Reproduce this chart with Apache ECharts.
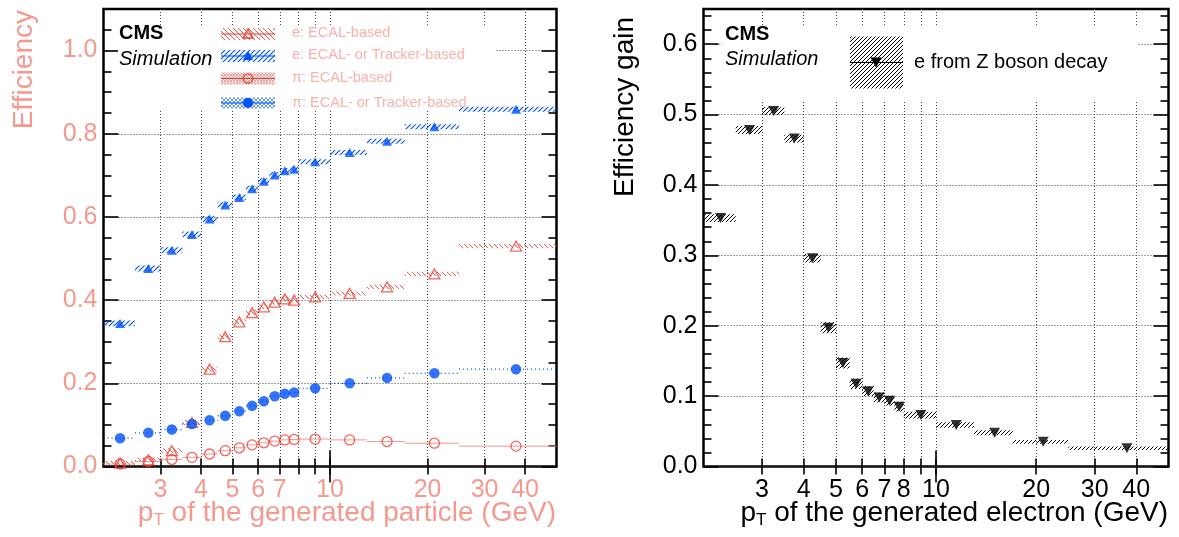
<!DOCTYPE html>
<html><head><meta charset="utf-8">
<script src="https://cdn.jsdelivr.net/npm/echarts@6/dist/echarts.min.js"></script>
<style>html,body{margin:0;padding:0;background:#fff}#c{width:1179px;height:537px}</style>
</head><body><div id="c"></div>
<script>
// ---- data ----
const binEdges   = [2,2.5,3,3.5,4,4.5,5,5.5,6,6.5,7,7.5,8,10,13,17,25,50];
const binCenters = [2.25,2.75,3.25,3.75,4.25,4.75,5.25,5.75,6.25,6.75,7.25,7.75,9,11.5,15,21,37.5];
const effElecEcal       = [0.008,0.016,0.038,0.106,0.234,0.312,0.348,0.370,0.384,0.395,0.403,0.400,0.408,0.416,0.432,0.463,0.530];
const effElecEcalErr    = [0.005,0.005,0.006,0.006,0.006,0.006,0.006,0.006,0.006,0.006,0.006,0.006,0.005,0.005,0.005,0.005,0.005];
const effElecEcalTrk    = [0.344,0.476,0.520,0.558,0.595,0.629,0.647,0.668,0.686,0.701,0.711,0.715,0.733,0.755,0.782,0.817,0.859];
const effElecEcalTrkErr = [0.007,0.007,0.007,0.007,0.007,0.007,0.007,0.007,0.007,0.007,0.007,0.007,0.006,0.006,0.006,0.006,0.006];
const effPionEcal       = [0.006,0.012,0.017,0.022,0.030,0.038,0.045,0.052,0.057,0.061,0.064,0.065,0.066,0.064,0.060,0.056,0.049];
const effPionEcalErr    = [0.001,0.001,0.001,0.001,0.001,0.001,0.001,0.001,0.001,0.001,0.001,0.001,0.001,0.001,0.001,0.001,0.001];
const effPionEcalTrk    = [0.068,0.081,0.089,0.102,0.111,0.122,0.133,0.146,0.157,0.169,0.175,0.178,0.188,0.200,0.213,0.224,0.234];
const effPionEcalTrkErr = [0.002,0.002,0.002,0.002,0.002,0.002,0.002,0.002,0.002,0.002,0.002,0.002,0.002,0.002,0.002,0.002,0.002];
const gainZee    = [0.353,0.478,0.505,0.466,0.296,0.197,0.147,0.1175,0.107,0.098,0.0935,0.085,0.073,0.059,0.048,0.035,0.026];
const gainZeeErr = [0.0055,0.0057,0.0055,0.0055,0.006,0.0078,0.0078,0.0075,0.007,0.007,0.007,0.007,0.0047,0.004,0.0035,0.0025,0.0024];
const xTicks       = [3,4,5,6,7,8,9,10,20,30,40];
const xLongTicks   = [10];
const xLabelsLeft  = [3,4,5,6,7,10,20,30,40];
const xLabelsRight = [3,4,5,6,7,8,10,20,30,40];
const yLabelsLeft  = [0,0.2,0.4,0.6,0.8,1.0];
const yMinorLeft   = [0.05,0.1,0.15,0.25,0.3,0.35,0.45,0.5,0.55,0.65,0.7,0.75,0.85,0.9,0.95,1.05];
const yLabelsRight = [0,0.1,0.2,0.3,0.4,0.5,0.6];
const yMinorRight  = [0.02,0.04,0.06,0.08,0.12,0.14,0.16,0.18,0.22,0.24,0.26,0.28,0.32,0.34,0.36,0.38,0.42,0.44,0.46,0.48,0.52,0.54,0.56,0.58,0.62,0.64];

// ---- style ----
const FONT = '"Liberation Sans", Arial, Helvetica, sans-serif';
const RED = '#f03c32', BLUE = '#0050f5', PINK = '#f5998f', PINKL = '#f8b2ab';

function hatch(color, dir, s, lw) {
  const c = document.createElement('canvas'); c.width = s; c.height = s;
  const g = c.getContext('2d'); g.strokeStyle = color; g.lineWidth = lw;
  g.beginPath();
  if (dir === '/') { g.moveTo(0,s); g.lineTo(s,0); g.moveTo(-1,1); g.lineTo(1,-1); g.moveTo(s-1,s+1); g.lineTo(s+1,s-1); }
  else if (dir === '\\') { g.moveTo(0,0); g.lineTo(s,s); g.moveTo(s-1,-1); g.lineTo(s+1,1); g.moveTo(-1,s-1); g.lineTo(1,s+1); }
  else { g.moveTo(0,0); g.lineTo(s,s); g.moveTo(0,s); g.lineTo(s,0); }
  g.stroke();
  return { image: c, repeat: 'repeat' };
}
const hRed = hatch('#f2584e', '\\', 5, 1);
const hBlue = hatch(BLUE, '/', 5, 1.1);
const hRedFine = hatch('#f5867e', 'x', 3, 0.8);
const hBlueFine = hatch('#3f7cf7', 'x', 4, 0.8);
const hBlack = hatch('#000', '/', 4, 1);

function band(xi, yi, vals, errs, fill, line, z) {
  return {
    type: 'custom', xAxisIndex: xi, yAxisIndex: yi, clip: true, silent: true, z: z || 2,
    data: vals.map((v, i) => [binEdges[i], binEdges[i + 1], v, errs[i]]),
    renderItem(params, api) {
      const a = api.coord([api.value(0), api.value(2) + api.value(3)]);
      const b = api.coord([api.value(1), api.value(2) - api.value(3)]);
      const m = api.coord([api.value(0), api.value(2)]);
      const ch = [];
      if (fill) ch.push({ type: 'rect', shape: { x: a[0], y: a[1], width: b[0] - a[0], height: Math.max(1, b[1] - a[1]) }, style: { fill: fill } });
      if (line) ch.push({ type: 'line', shape: { x1: a[0], y1: m[1], x2: b[0], y2: m[1] }, style: { stroke: line.color, lineWidth: line.width, lineDash: line.dash || null } });
      return { type: 'group', children: ch };
    }
  };
}
function pts(xi, yi, vals, symbol, size, item, rot) {
  return {
    type: 'scatter', xAxisIndex: xi, yAxisIndex: yi, silent: true, z: 5,
    data: binCenters.map((x, i) => [x, vals[i]]),
    symbol: symbol, symbolSize: size, symbolRotate: rot || 0, itemStyle: item
  };
}

function xAxes(grid, labels, labColor) {
  const base = { type: 'log', logBase: 10, min: 2, max: 50, gridIndex: grid, axisLine: { show: false } };
  const tickStyle = { color: '#000', width: 1.6 };
  return [
    Object.assign({}, base, { position: 'bottom',
      axisTick: { customValues: xTicks, inside: true, length: 8, lineStyle: tickStyle },
      axisLabel: { customValues: labels, color: labColor, fontSize: 25, fontFamily: FONT, margin: 11, formatter: v => String(v) },
      splitLine: { show: true, lineStyle: { type: [1, 2], color: '#444', width: 1 } } }),
    Object.assign({}, base, { position: 'bottom',
      axisTick: { customValues: xLongTicks, inside: true, length: 16, lineStyle: tickStyle },
      axisLabel: { show: false }, splitLine: { show: false } }),
    Object.assign({}, base, { position: 'top',
      axisTick: { customValues: xTicks, inside: true, length: 8, lineStyle: tickStyle },
      axisLabel: { show: false }, splitLine: { show: false } }),
    Object.assign({}, base, { position: 'top',
      axisTick: { customValues: xLongTicks, inside: true, length: 16, lineStyle: tickStyle },
      axisLabel: { show: false }, splitLine: { show: false } })
  ];
}
function yAxes(grid, max, labels, minor, labColor, fmt) {
  const base = { type: 'value', min: 0, max: max, gridIndex: grid, axisLine: { show: false } };
  const tickStyle = { color: '#000', width: 1.6 };
  return [
    Object.assign({}, base, { position: 'left',
      axisTick: { customValues: labels, inside: true, length: 15, lineStyle: tickStyle },
      axisLabel: { customValues: labels, color: labColor, fontSize: 25, fontFamily: FONT, margin: 6, formatter: fmt },
      splitLine: { show: true, lineStyle: { type: [1, 2], color: '#444', width: 1 } } }),
    Object.assign({}, base, { position: 'left',
      axisTick: { customValues: minor, inside: true, length: 8, lineStyle: tickStyle },
      axisLabel: { show: false }, splitLine: { show: false } }),
    Object.assign({}, base, { position: 'right',
      axisTick: { customValues: labels, inside: true, length: 15, lineStyle: tickStyle },
      axisLabel: { show: false }, splitLine: { show: false } }),
    Object.assign({}, base, { position: 'right',
      axisTick: { customValues: minor, inside: true, length: 8, lineStyle: tickStyle },
      axisLabel: { show: false }, splitLine: { show: false } })
  ];
}

function txt(x, y, text, font, fill, align, extra) {
  return Object.assign({ type: 'text', x: x, y: y, z: 10, silent: true,
    style: { text: text, font: font, fill: fill, align: align || 'left', verticalAlign: 'middle' } }, extra || {});
}
function legendSym(x, y, w, h, fill, lineColor, symbolEl) {
  const els = [{ type: 'rect', z: 6, silent: true, shape: { x: x, y: y - h / 2, width: w, height: h }, style: { fill: fill } }];
  if (lineColor) els.push({ type: 'line', z: 7, silent: true, shape: { x1: x, y1: y, x2: x + w, y2: y }, style: { stroke: lineColor, lineWidth: 1.2 } });
  els.push(symbolEl);
  return els;
}
function tri(cx, cy, w, h, down, style) {
  const p = down ? [[cx - w / 2, cy - h / 2], [cx + w / 2, cy - h / 2], [cx, cy + h / 2]]
                 : [[cx, cy - h / 2], [cx + w / 2, cy + h / 2], [cx - w / 2, cy + h / 2]];
  return { type: 'polygon', z: 8, silent: true, shape: { points: p }, style: style };
}

const chart = echarts.init(document.getElementById('c'), null, { renderer: 'canvas' });
const f1 = v => v.toFixed(1);

const graphics = [
  { type: 'rect', z: 1, silent: true, shape: { x: 118, y: 25, width: 378, height: 85 }, style: { fill: '#fff' } },
  { type: 'rect', z: 1, silent: true, shape: { x: 722, y: 25, width: 415, height: 75 }, style: { fill: '#fff' } },
  txt(119, 33, 'CMS', 'bold 20px ' + FONT, '#000'),
  txt(119, 59, 'Simulation', 'italic 20px ' + FONT, '#000'),
  txt(725, 34, 'CMS', 'bold 20px ' + FONT, '#000'),
  txt(725, 59, 'Simulation', 'italic 20px ' + FONT, '#000'),
  ...legendSym(221, 34, 54, 12, hRed, RED, tri(248, 33.5, 10, 9, false, { fill: 'none', stroke: RED, lineWidth: 1.3 })),
  ...legendSym(221, 56, 54, 12, hBlue, BLUE, tri(248, 55.5, 10, 9, false, { fill: BLUE })),
  ...legendSym(221, 78.5, 54, 12, hRedFine, RED, { type: 'circle', z: 8, silent: true, shape: { cx: 248, cy: 78.5, r: 4.7 }, style: { fill: 'none', stroke: RED, lineWidth: 1.3 } }),
  ...legendSym(221, 103, 54, 11, hBlueFine, BLUE, { type: 'circle', z: 8, silent: true, shape: { cx: 248, cy: 103, r: 5 }, style: { fill: BLUE } }),
  txt(292, 33, 'e: ECAL-based', '14.5px ' + FONT, PINKL),
  txt(292, 55, 'e: ECAL- or Tracker-based', '14.5px ' + FONT, PINKL),
  txt(292, 78, 'π: ECAL-based', '14.5px ' + FONT, PINKL),
  txt(292, 103, 'π: ECAL- or Tracker-based', '14.5px ' + FONT, PINKL),
  ...legendSym(850, 62.5, 53, 52, hBlack, '#000', tri(876, 62.5, 11, 10, true, { fill: '#000' })),
  txt(914, 62, 'e from Z boson decay', '20px ' + FONT, '#000'),
  txt(24, 10, 'Efficiency', '28px ' + FONT, PINK, 'right', { rotation: Math.PI / 2 }),
  txt(625, 17, 'Efficiency gain', '28px ' + FONT, '#000', 'right', { rotation: Math.PI / 2 }),
  { type: 'text', x: 556, y: 529, z: 10, silent: true,
    style: { text: '{m|p}{s|T}{m| of the generated particle (GeV)}', align: 'right', verticalAlign: 'bottom',
      rich: { m: { fontSize: 28, fontFamily: FONT, fill: PINK, verticalAlign: 'top', lineHeight: 30 },
              s: { fontSize: 17, fontFamily: FONT, fill: PINK, verticalAlign: 'bottom', lineHeight: 18, padding: [20, 0, 0, 0] } } } },
  { type: 'text', x: 1168, y: 529, z: 10, silent: true,
    style: { text: '{m|p}{s|T}{m| of the generated electron (GeV)}', align: 'right', verticalAlign: 'bottom',
      rich: { m: { fontSize: 28, fontFamily: FONT, fill: '#000', verticalAlign: 'top', lineHeight: 30 },
              s: { fontSize: 17, fontFamily: FONT, fill: '#000', verticalAlign: 'bottom', lineHeight: 18, padding: [20, 0, 0, 0] } } } }
];

chart.setOption({
  animation: false,
  backgroundColor: '#fff',
  grid: [
    { left: 103.5, top: 9, width: 453, height: 457.5, show: true, borderColor: '#000', borderWidth: 2.5, backgroundColor: 'transparent', containLabel: false },
    { left: 703.5, top: 9, width: 465, height: 457.5, show: true, borderColor: '#000', borderWidth: 2.5, backgroundColor: 'transparent', containLabel: false }
  ],
  xAxis: [...xAxes(0, xLabelsLeft, PINK), ...xAxes(1, xLabelsRight, '#000')],
  yAxis: [...yAxes(0, 1.1, yLabelsLeft, yMinorLeft, PINK, f1), ...yAxes(1, 0.65, yLabelsRight, yMinorRight, '#000', f1)],
  series: [
    band(0, 0, effElecEcal, effElecEcalErr, hRed, null, 2),
    band(0, 0, effElecEcalTrk, effElecEcalTrkErr, hBlue, null, 2),
    band(0, 0, effPionEcal, effPionEcalErr, null, { color: '#f6958e', width: 1 }, 2),
    band(0, 0, effPionEcalTrk, effPionEcalTrkErr, null, { color: BLUE, width: 1.3, dash: [1, 3] }, 2),
    pts(0, 0, effElecEcal, 'triangle', [11, 10], { color: 'rgba(255,255,255,0)', borderColor: RED, borderWidth: 1.3 }),
    pts(0, 0, effElecEcalTrk, 'triangle', [10, 9], { color: BLUE }),
    pts(0, 0, effPionEcal, 'circle', 10, { color: 'rgba(255,255,255,0)', borderColor: RED, borderWidth: 1.3 }),
    pts(0, 0, effPionEcalTrk, 'circle', 10.5, { color: BLUE }),
    band(4, 4, gainZee, gainZeeErr, hBlack, null, 2),
    pts(4, 4, gainZee, 'triangle', [11, 10], { color: '#000' }, 180)
  ],
  graphic: graphics
});
</script></body></html>
